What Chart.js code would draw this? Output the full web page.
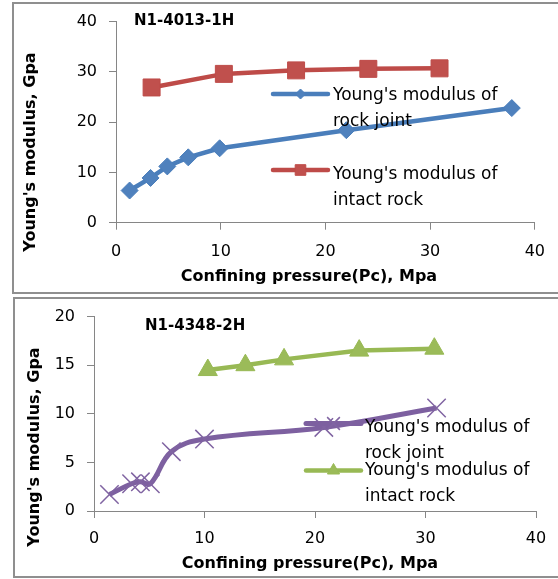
<!DOCTYPE html>
<html>
<head>
<meta charset="utf-8">
<script src="https://cdn.jsdelivr.net/npm/chart.js@4/dist/chart.umd.min.js"></script>
<style>
body { margin:0; background:#fff; width:558px; height:579px; overflow:hidden; position:relative; }
.frame { position:absolute; border:2px solid #8f8f8f; box-sizing:border-box; }
#f1 { left:12px; top:2px; width:600px; height:292px; }
#f2 { left:13px; top:297px; width:600px; height:281px; }
canvas { position:absolute; left:0; }
#c1 { top:0; }
#c2 { top:295px; }
</style>
</head>
<body>
<div class="frame" id="f1"></div>
<div class="frame" id="f2"></div>
<canvas id="c1" width="558" height="295"></canvas>
<canvas id="c2" width="558" height="284"></canvas>
<script>
// N1-4013-1H
var pc1Joint = [1.3, 3.3, 4.9, 6.9, 9.9, 22.0, 37.8];
var e1Joint = [6.4, 8.9, 11.2, 13.0, 14.8, 18.4, 22.8];
var pc1Intact = [3.4, 10.3, 17.2, 24.1, 30.9];
var e1Intact = [26.9, 29.6, 30.3, 30.6, 30.7];

// N1-4348-2H
var pc2Joint = [1.4, 3.4, 4.2, 5.1, 7.0, 10.0, 20.8, 31.0];
var e2Joint = [1.7, 2.8, 3.0, 2.8, 6.1, 7.4, 8.6, 10.6];
var pc2Intact = [10.3, 13.7, 17.2, 24.0, 30.8];
var e2Intact = [14.5, 15.0, 15.6, 16.5, 16.7];

var xTicks = [0, 10, 20, 30, 40];
var yTicks1 = [0, 10, 20, 30, 40];
var yTicks2 = [0, 5, 10, 15, 20];

var labelJoint = ["Young's modulus of", "rock joint"];
var labelIntact = ["Young's modulus of", "intact rock"];
var xTitle = 'Confining pressure(Pc), Mpa';
var yTitle = "Young's modulus, Gpa";

var axisGrey = '#868686';
var fontName = '"DejaVu Sans"';

function pts(xs, ys) {
    return xs.map(function (x, i) { return { x: x, y: ys[i] }; });
}

function axes(yTicks, leftW, bottomH, xPad) {
    return {
        x: {
            type: 'linear',
            min: xTicks[0], max: xTicks[xTicks.length - 1],
            ticks: { stepSize: xTicks[1] - xTicks[0], color: '#000', font: { family: fontName, size: 16 }, padding: xPad, maxRotation: 0 },
            grid: { drawOnChartArea: false, tickLength: 7, color: axisGrey },
            border: { color: axisGrey, width: 1 },
            afterFit: function (s) { s.height = bottomH; }
        },
        y: {
            min: yTicks[0], max: yTicks[yTicks.length - 1],
            ticks: { stepSize: yTicks[1] - yTicks[0], color: '#000', font: { family: fontName, size: 16 }, padding: 12 },
            grid: { drawOnChartArea: false, tickLength: 7, color: axisGrey },
            border: { color: axisGrey, width: 1 },
            afterFit: function (s) { s.width = leftW; }
        }
    };
}

// titles and the two-line legend, drawn on top of the plot like the original
function makeDecor(cfg) {
    return {
        id: 'decor',
        afterDraw: function (chart) {
            var ctx = chart.ctx;
            ctx.save();
            ctx.fillStyle = '#000';
            ctx.textBaseline = 'middle';
            ctx.textAlign = 'left';
            ctx.font = 'bold 15px ' + fontName;
            ctx.fillText(cfg.heading, cfg.headingX, cfg.headingY);

            ctx.font = 'bold 16px ' + fontName;
            ctx.textAlign = 'center';
            ctx.fillText(xTitle, cfg.xTitleX, cfg.xTitleY);
            ctx.save();
            ctx.translate(cfg.yTitleX, cfg.yTitleY);
            ctx.rotate(-Math.PI / 2);
            ctx.fillText(yTitle, 0, 0);
            ctx.restore();

            cfg.legend.forEach(function (item) {
                var ds = chart.data.datasets[item.index];
                ctx.strokeStyle = ds.borderColor;
                ctx.lineWidth = ds.borderWidth;
                ctx.lineCap = 'round';
                ctx.beginPath();
                ctx.moveTo(item.x0, item.y);
                ctx.lineTo(item.x1, item.y);
                ctx.stroke();
                ctx.lineCap = 'butt';
                ctx.fillStyle = ds.pointBackgroundColor;
                ctx.strokeStyle = ds.pointBorderColor;
                ctx.lineWidth = ds.pointBorderWidth;
                Chart.helpers.drawPoint(ctx, { pointStyle: ds.pointStyle, radius: item.r, rotation: 0, borderWidth: ds.pointBorderWidth }, (item.x0 + item.x1) / 2, item.y);
                ctx.fillStyle = '#000';
                ctx.font = '17px ' + fontName;
                ctx.textAlign = 'left';
                ctx.textBaseline = 'alphabetic';
                item.lines.forEach(function (t, k) {
                    ctx.fillText(t, item.tx, item.base[k]);
                });
            });
            ctx.restore();
        }
    };
}

var common = {
    responsive: false,
    animation: false,
    devicePixelRatio: 1,
    plugins: { legend: { display: false }, tooltip: { enabled: false } }
};

new Chart(document.getElementById('c1').getContext('2d'), {
    type: 'line',
    data: {
        datasets: [{
            label: labelJoint.join(' '),
            data: pts(pc1Joint, e1Joint),
            borderColor: '#4A7EBB', borderWidth: 4.5,
            pointStyle: 'rectRot', pointRadius: 8.5,
            pointBackgroundColor: '#4F81BD', pointBorderColor: '#4A7EBB', pointBorderWidth: 1,
            tension: 0
        }, {
            label: labelIntact.join(' '),
            data: pts(pc1Intact, e1Intact),
            borderColor: '#BE4B48', borderWidth: 4.5,
            pointStyle: 'rect', pointRadius: 12,
            pointBackgroundColor: '#C0504D', pointBorderColor: '#BE4B48', pointBorderWidth: 1,
            tension: 0
        }]
    },
    options: Object.assign({}, common, {
        layout: { padding: { left: 0, top: 15, right: 22.4, bottom: 0 } },
        scales: axes(yTicks1, 116, 72.3, 13)
    }),
    plugins: [makeDecor({
        heading: 'N1-4013-1H', headingX: 134, headingY: 21,
        xTitleX: 309, xTitleY: 277, yTitleX: 31, yTitleY: 152,
        legend: [
            { index: 0, x0: 273, x1: 328, y: 94, r: 5, tx: 333, base: [99.5, 125.5], lines: labelJoint },
            { index: 1, x0: 273, x1: 328, y: 170, r: 7.5, tx: 333, base: [178.5, 204.5], lines: labelIntact }
        ]
    })]
});

new Chart(document.getElementById('c2').getContext('2d'), {
    type: 'line',
    data: {
        datasets: [{
            label: labelJoint.join(' '),
            data: pts(pc2Joint, e2Joint),
            borderColor: '#7D60A0', borderWidth: 5,
            pointStyle: 'crossRot', pointRadius: 13,
            pointBackgroundColor: '#8064A2', pointBorderColor: '#8064A2', pointBorderWidth: 1.5,
            tension: 0.4
        }, {
            label: labelIntact.join(' '),
            data: pts(pc2Intact, e2Intact),
            borderColor: '#98B954', borderWidth: 4.5,
            pointStyle: 'triangle', pointRadius: 11,
            pointBackgroundColor: '#9BBB59', pointBorderColor: '#98B954', pointBorderWidth: 1,
            tension: 0
        }]
    },
    options: Object.assign({}, common, {
        layout: { padding: { left: 0, top: 16, right: 22, bottom: 0 } },
        scales: axes(yTicks2, 94, 68, 11)
    }),
    plugins: [makeDecor({
        heading: 'N1-4348-2H', headingX: 145, headingY: 31,
        xTitleX: 310, xTitleY: 269, yTitleX: 35, yTitleY: 152,
        legend: [
            { index: 0, x0: 306, x1: 361, y: 128.5, r: 9, tx: 365, base: [137, 162.5], lines: labelJoint },
            { index: 1, x0: 306, x1: 361, y: 175.5, r: 7, tx: 365, base: [180, 205.5], lines: labelIntact }
        ]
    })]
});
</script>
</body>
</html>
